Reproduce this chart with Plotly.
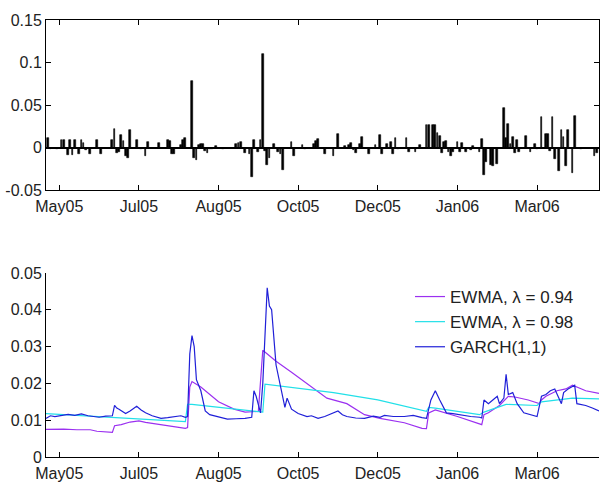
import plotly.graph_objects as go

# ---------------- data ----------------
# trading-day index of non-negligible daily returns (top panel)
ret_days = [1, 2, 5, 7, 8, 10, 11, 12, 13, 15, 16, 17, 18, 20, 23, 25, 30, 31, 32, 33, 34, 35, 36, 37, 38,
            41, 43, 45, 46, 51, 55, 56, 57, 58, 61, 62, 63, 66, 67, 68, 69, 70, 71, 72, 73, 74, 75, 77, 80,
            86, 87, 88, 90, 92, 93, 94, 96, 97, 98, 99, 100, 101, 103, 105, 106, 107, 111, 112, 116, 117,
            121, 122, 123, 126, 130, 132, 135, 137, 138, 139, 140, 142, 143, 146, 149, 151, 152, 154, 156,
            157, 158, 159, 163, 164, 167, 169, 172, 173, 175, 176, 177, 178, 179, 180, 181, 182, 183, 184,
            186, 187, 188, 190, 192, 193, 196, 197, 198, 199, 201, 202, 204, 207, 208, 209, 210, 211, 212,
            213, 214, 217, 219, 221, 222, 224, 226, 227, 228, 229, 230, 232, 233, 234, 235, 236, 238, 239,
            242, 248, 249]
ret_values = [0.011, -0.002, -0.002, 0.009, 0.009, -0.009, 0.009, -0.009, 0.009, -0.008, 0.009, 0.005, -0.003,
              -0.008, 0.009, -0.008, 0.009, 0.022, -0.006, -0.005, 0.015, 0.008, -0.010, -0.012, 0.021,
              0.009, -0.002, -0.010, 0.006, 0.005, 0.009, 0.008, -0.008, -0.008, 0.003, 0.009, 0.011, 0.078,
              -0.012, -0.015, 0.003, 0.004, 0.004, -0.004, -0.007, -0.002, -0.002, 0.002, -0.002,
              0.004, 0.005, 0.006, -0.006, -0.008, -0.035, 0.009, -0.005, 0.009, 0.110, -0.004, -0.020,
              -0.012, 0.004, -0.005, -0.008, -0.026, 0.007, -0.010, 0.003, -0.002,
              0.004, 0.008, 0.010, -0.008, -0.010, 0.016, 0.002, 0.003, 0.005, -0.003, -0.006, 0.004, 0.012,
              -0.008, 0.003, 0.015, -0.008, 0.004, 0.007, -0.008, 0.011, -0.002, 0.011, -0.005, -0.005, 0.003,
              0.027, 0.026, 0.026, 0.026, 0.017, 0.014, -0.007, 0.006, 0.008, -0.005, -0.010, -0.005,
              0.007, -0.005, 0.005, -0.005, -0.003, 0.002, -0.005, 0.010, -0.032, -0.017, -0.020, -0.022,
              -0.019, 0.046, 0.011, 0.028, 0.004, 0.012, -0.006, 0.009, -0.005, 0.014, -0.005, 0.004, -0.002,
              0.036, 0.016, 0.016, -0.004, 0.036, -0.013, -0.028, 0.021, 0.012, -0.022, 0.021, -0.030, 0.037,
              -0.002, -0.010, -0.006]

ewma94_days = [0, 8, 14, 20, 23, 27, 30, 31, 34, 38, 42, 45, 50, 56, 63, 64, 65, 66, 70, 78, 85, 90, 96, 98,
               104, 111, 118, 127, 136, 144, 151, 162, 170, 172, 173, 176, 186, 196, 197, 198, 200, 205,
               209, 212, 218, 223, 224, 226, 231, 235, 238, 244, 250]
ewma94_vals = [0.0075, 0.0076, 0.0074, 0.0074, 0.0070, 0.0069, 0.0067, 0.0085, 0.0088, 0.0095, 0.0098,
               0.0094, 0.0090, 0.0085, 0.0078, 0.0080, 0.0190, 0.0205, 0.0190, 0.0150, 0.0130, 0.0122,
               0.0124, 0.0290, 0.0260, 0.0230, 0.0200, 0.0160, 0.0145, 0.0115, 0.0105, 0.0093, 0.0078,
               0.0077, 0.0120, 0.0128, 0.0110, 0.0090, 0.0088, 0.0115, 0.0120, 0.0140, 0.0165, 0.0163,
               0.0155, 0.0145, 0.0155, 0.0165, 0.0180, 0.0185, 0.0195, 0.0180, 0.0173]

ewma98_days = [0, 30, 63, 64, 66, 98, 99, 130, 150, 172, 173, 176, 196, 198, 208, 222, 224, 238, 250]
ewma98_vals = [0.0118, 0.0108, 0.0096, 0.0143, 0.0143, 0.0122, 0.0198, 0.0175, 0.0155, 0.0124, 0.0135,
               0.0133, 0.0115, 0.0122, 0.0143, 0.0140, 0.0150, 0.0160, 0.0158]

garch_days = [0, 2, 4, 7, 10, 13, 16, 19, 22, 24, 27, 30, 31, 32, 33, 35, 36, 38, 41, 43, 45, 48, 52, 55,
              59, 61, 63, 64, 65, 66, 67, 68, 70, 72, 74, 77, 80, 82, 86, 90, 93, 94, 95, 97, 98, 99, 100,
              101, 102, 104, 107, 108, 109, 111, 114, 118, 120, 123, 126, 130, 132, 134, 136, 140, 144, 148,
              151, 153, 157, 162, 166, 170, 172, 174, 176, 178, 181, 184, 188, 192, 196, 197, 198, 200, 202,
              204, 205, 207, 208, 209, 211, 213, 216, 219, 222, 224, 226, 228, 230, 233, 234, 236, 239, 240,
              242, 244, 247, 250]
garch_vals = [0.0105, 0.0112, 0.0110, 0.0113, 0.0116, 0.0113, 0.0117, 0.0112, 0.0110, 0.0108, 0.0111,
              0.0112, 0.0140, 0.0133, 0.0130, 0.0122, 0.0118, 0.0125, 0.0138, 0.0128, 0.0120, 0.0112,
              0.0105, 0.0107, 0.0110, 0.0112, 0.0108, 0.0110, 0.0280, 0.0330, 0.0300, 0.0210, 0.0180,
              0.0125, 0.0115, 0.0110, 0.0106, 0.0103, 0.0104, 0.0105, 0.0108, 0.0180, 0.0165, 0.0120,
              0.0200, 0.0330, 0.0460, 0.0410, 0.0400, 0.0250, 0.0170, 0.0135, 0.0160, 0.0130, 0.0118,
              0.0110, 0.0112, 0.0105, 0.0110, 0.0120, 0.0125, 0.0115, 0.0110, 0.0106, 0.0105, 0.0111,
              0.0108, 0.0113, 0.0110, 0.0110, 0.0113, 0.0107, 0.0105, 0.0155, 0.0180, 0.0155, 0.0120,
              0.0118, 0.0113, 0.0110, 0.0108, 0.0106, 0.0155, 0.0145, 0.0155, 0.0165, 0.0145, 0.0160,
              0.0225, 0.0170, 0.0175, 0.0145, 0.0120, 0.0115, 0.0110, 0.0165, 0.0170, 0.0180, 0.0185,
              0.0145, 0.0175, 0.0185, 0.0195, 0.0145, 0.0142, 0.0140, 0.0133, 0.0125]

tick_days = [6, 42, 78, 114, 150, 186, 222]
tick_labels = ["May05", "Jul05", "Aug05", "Oct05", "Dec05", "Jan06", "Mar06"]

top_yticks = [-0.05, 0, 0.05, 0.1, 0.15]
top_ylabels = ["-0.05", "0", "0.05", "0.1", "0.15"]
bot_yticks = [0, 0.01, 0.02, 0.03, 0.04, 0.05]
bot_ylabels = ["0", "0.01", "0.02", "0.03", "0.04", "0.05"]

# ---------------- figure ----------------
W, H = 605, 494
ML, MR, MT, MB = 44, 5, 20, 37
ph = H - MT - MB
top_dom = [(H - MB - 190) / ph, 1.0]
bot_dom = [0.0, (H - MB - 273) / ph]

FONT = dict(family="Liberation Sans, Arial, sans-serif", size=16, color="#222222")
LFONT = dict(family="Liberation Sans, Arial, sans-serif", size=17, color="#222222")

fig = go.Figure()
fig.add_trace(go.Bar(x=ret_days, y=ret_values, width=0.8,
                     marker=dict(color="black", line=dict(width=0.6, color="black")),
                     showlegend=False, xaxis="x", yaxis="y"))
fig.add_trace(go.Scatter(x=ewma94_days, y=ewma94_vals, mode="lines", name="EWMA, λ = 0.94",
                         line=dict(color="#9B30F0", width=1.2), xaxis="x2", yaxis="y2"))
fig.add_trace(go.Scatter(x=ewma98_days, y=ewma98_vals, mode="lines", name="EWMA, λ = 0.98",
                         line=dict(color="#22E0E8", width=1.2), xaxis="x2", yaxis="y2"))
fig.add_trace(go.Scatter(x=garch_days, y=garch_vals, mode="lines", name="GARCH(1,1)",
                         line=dict(color="#2020D8", width=1.2), xaxis="x2", yaxis="y2"))

common_x = dict(range=[0, 250], tickvals=tick_days, ticktext=tick_labels, ticks="inside", ticklen=5,
                tickcolor="black", showline=True, linecolor="black", linewidth=1, showgrid=False,
                zeroline=False, tickfont=FONT, ticklabelstandoff=2)
fig.update_layout(
    width=W, height=H, margin=dict(l=ML, r=MR, t=MT, b=MB),
    paper_bgcolor="white", plot_bgcolor="white", font=FONT, bargap=0,
    xaxis=dict(domain=[0, 1], anchor="y", mirror="allticks", **common_x),
    yaxis=dict(domain=top_dom, anchor="x", range=[-0.05, 0.15], tickvals=top_yticks, ticktext=top_ylabels,
               ticks="inside", ticklen=5, tickcolor="black", showline=True, linecolor="black", linewidth=1,
               mirror="allticks", showgrid=False, zeroline=True, zerolinecolor="black", zerolinewidth=1.5,
               tickfont=FONT),
    xaxis2=dict(domain=[0, 1], anchor="y2", **common_x),
    yaxis2=dict(domain=bot_dom, anchor="x2", range=[0, 0.05], tickvals=bot_yticks, ticktext=bot_ylabels,
                ticks="inside", ticklen=5, tickcolor="black", showline=True, linecolor="black", linewidth=1,
                showgrid=False, zeroline=False, tickfont=FONT),
    legend=dict(x=(410 - ML) / (W - ML - MR), y=(H - MB - 279) / ph, xanchor="left", yanchor="top",
                bgcolor="rgba(0,0,0,0)", font=LFONT, tracegroupgap=0),
    showlegend=True,
)

fig.write_html("out.html")
